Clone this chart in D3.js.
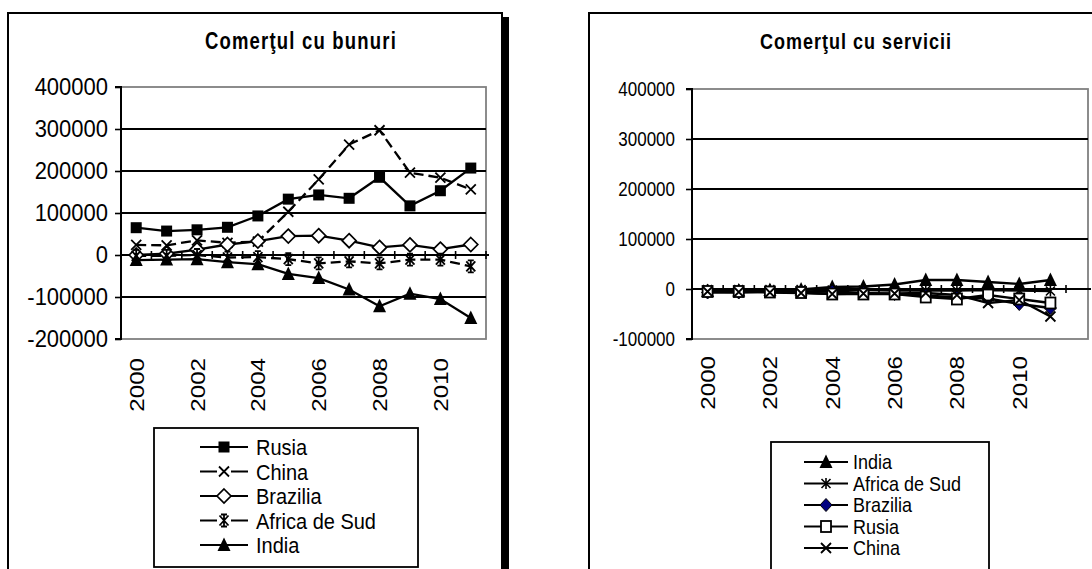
<!DOCTYPE html>
<html><head><meta charset="utf-8">
<script src="https://cdn.jsdelivr.net/npm/d3@7"></script>
<style>body{margin:0;background:#fff}svg{display:block}text{font-family:"Liberation Sans",Arial,sans-serif;fill:#000}</style>
</head><body><svg id="c" width="1092" height="569"></svg>
<script>
// ---------- data ----------
const years = [2000,2001,2002,2003,2004,2005,2006,2007,2008,2009,2010,2011];
const yearLabels = [2000,2002,2004,2006,2008,2010];
const goodsTicks = [-200000,-100000,0,100000,200000,300000,400000];
const servTicks = [-100000,0,100000,200000,300000,400000];

const goodsRusia    = [65000,57000,60000,66000,93000,133000,143000,135000,185000,117000,153000,207000];
const goodsChina    = [24000,23000,35000,29000,32000,103000,180000,263000,297000,196000,184000,156000];
const goodsBrazilia = [0,3000,13000,25000,33000,45000,46000,34000,18000,24000,14000,25000];
const goodsAfrica   = [-2000,-2000,0,-6000,-5000,-10000,-20000,-15000,-20000,-11000,-11000,-27000];
const goodsIndia    = [-12000,-11000,-10000,-17000,-22000,-45000,-55000,-82000,-122000,-92000,-105000,-150000];

const servIndia    = [-4000,-3000,-2000,-1000,4000,5000,9000,18000,18000,14000,10000,18000];
const servAfrica   = [-1000,-1000,-1000,-1000,-2000,-2000,-3000,-3000,-3000,-2000,-3000,-4000];
const servBrazilia = [-7000,-7000,-5000,-5000,-5000,-8000,-10000,-13000,-17000,-19000,-30000,-38000];
const servRusia    = [-5000,-5000,-6000,-7000,-10000,-10000,-10000,-16000,-20000,-12000,-20000,-28000];
const servChina    = [-5000,-6000,-7000,-8000,-10000,-9000,-9000,-8000,-12000,-28000,-22000,-55000];

const goodsTitle = "Comerţul cu bunuri";
const servTitle = "Comerţul cu servicii";

// ---------- helpers ----------
const svg = d3.select("#c");

function stext(g, x, y, str, size, sy, opt = {}) {
  return g.append("text")
    .attr("transform", `translate(${x},${y}) scale(${opt.sx||1},${sy})`)
    .attr("font-size", size)
    .attr("font-weight", opt.bold ? "bold" : null)
    .attr("letter-spacing", opt.ls || null)
    .attr("text-anchor", opt.anchor || "start")
    .text(str);
}

function marker(g, type, cx, cy) {
  const m = g.append("g").attr("transform", `translate(${cx},${cy})`);
  switch (type) {
    case "square": m.append("rect").attr("x",-5.5).attr("y",-5.5).attr("width",11).attr("height",11).attr("fill","#000"); break;
    case "squareOpen": m.append("rect").attr("x",-5).attr("y",-5.5).attr("width",10).attr("height",11).attr("fill","#fff").attr("stroke","#000").attr("stroke-width",1.8); break;
    case "x": m.append("path").attr("d","M-5,-5L5,5M-5,5L5,-5").attr("stroke","#000").attr("stroke-width",1.8).attr("fill","none"); break;
    case "star": m.append("path").attr("d","M-4.5,-5L4.5,5M-4.5,5L4.5,-5M0,-6L0,6M-3,-6H3M-3,6H3").attr("stroke","#000").attr("stroke-width",1.8).attr("fill","none"); break;
    case "starR": m.append("path").attr("d","M-4.5,-4.5L4.5,4.5M-4.5,4.5L4.5,-4.5M0,-5.5L0,5.5").attr("stroke","#000").attr("stroke-width",1.6).attr("fill","none"); break;
    case "diamondOpen": m.append("path").attr("d","M0,-7L7,0L0,7L-7,0Z").attr("fill","#fff").attr("stroke","#000").attr("stroke-width",1.7); break;
    case "diamondNavy": m.append("path").attr("d","M0,-6.5L6,0L0,6.5L-6,0Z").attr("fill","#000080").attr("stroke","#000").attr("stroke-width",1); break;
    case "triangle": m.append("path").attr("d","M0,-7.5L6.5,6L-6.5,6Z").attr("fill","#000"); break;
  }
}

function drawChart(cfg) {
  const g = svg.append("g");
  g.append("rect").attr("x",cfg.frame[0]).attr("y",cfg.frame[1]).attr("width",cfg.frame[2]).attr("height",cfg.frame[3])
    .attr("fill","#fff").attr("stroke","#000").attr("stroke-width",2);
  if (cfg.shadow) g.append("rect").attr("x",cfg.shadow[0]).attr("y",cfg.shadow[1]).attr("width",cfg.shadow[2]).attr("height",cfg.shadow[3]).attr("fill","#000");

  stext(g, cfg.titleX, cfg.titleY, cfg.title, cfg.titleSize, 1.25, {bold:true, anchor:"middle", ls:cfg.titleLs});

  const [x0,x1,y0,y1,xb] = cfg.plot;
  const x = d3.scaleBand().domain(years).range([x0,x1]);
  const cx = d => x(d) + x.bandwidth()/2;
  const y = d3.scaleLinear().domain([cfg.ticks[0], cfg.ticks[cfg.ticks.length-1]]).range([y1,y0]);

  g.append("rect").attr("x",x0).attr("y",y0).attr("width",xb-x0).attr("height",y1-y0)
    .attr("fill","#fff").attr("stroke","#808080").attr("stroke-width",1.8);

  g.selectAll(".grid").data(cfg.ticks.filter(t => t !== 0 && t !== cfg.ticks[0] && t !== cfg.ticks[cfg.ticks.length-1]))
    .enter().append("line").attr("x1",x0).attr("x2",xb).attr("y1",d=>y(d)).attr("y2",d=>y(d))
    .attr("stroke","#000").attr("stroke-width",2);

  const ya = g.append("g").attr("transform",`translate(${x0},0)`)
    .call(d3.axisLeft(y).tickValues(cfg.ticks).tickSize(6).tickPadding(cfg.tickPad).tickFormat(d => String(d)));
  ya.select(".domain").attr("stroke","#000").attr("stroke-width",2).attr("d",`M-6,${y0}H0V${y1}H-6`);
  ya.selectAll(".tick line").attr("stroke","#000").attr("stroke-width",1.6);
  ya.selectAll(".tick text").attr("font-size",cfg.tickSize).attr("font-family","Liberation Sans, Arial, sans-serif")
    .attr("fill","#000").attr("transform",`scale(1,${cfg.tickSy})`);

  const bx = d3.scaleLinear().domain([0, years.length]).range([x0,x1]);
  g.append("line").attr("x1",x0).attr("x2",xb+3).attr("y1",y(0)).attr("y2",y(0)).attr("stroke","#000").attr("stroke-width",2);
  g.selectAll(".ct").data(d3.range(1, years.length+1)).enter().append("line")
    .attr("x1",d=>bx(d)).attr("x2",d=>bx(d)).attr("y1",y(0)-4).attr("y2",y(0)+4)
    .attr("stroke","#000").attr("stroke-width",1.6);

  yearLabels.forEach(yr => {
    g.append("text").attr("transform",`translate(${cx(yr)},${cfg.xLabY}) rotate(-90) scale(${cfg.xLabSx},1)`)
      .attr("text-anchor","end").attr("dy","0.36em").attr("font-size",cfg.xLabSize).text(yr);
  });

  const line = d3.line().x((d,i) => cx(years[i])).y(d => y(d));
  cfg.series.forEach(s => {
    g.append("path").datum(s.values).attr("d", line).attr("fill","none").attr("stroke","#000")
      .attr("stroke-width",2.3).attr("stroke-dasharray", s.dash || null);
  });
  cfg.series.forEach(s => {
    s.values.forEach((v,i) => marker(g, s.marker, cx(years[i]), y(v)));
  });

  const L = cfg.legend;
  g.append("rect").attr("x",L.box[0]).attr("y",L.box[1]).attr("width",L.box[2]).attr("height",L.box[3])
    .attr("fill","#fff").attr("stroke","#000").attr("stroke-width",1.8);
  cfg.series.slice().sort((a,b)=>a.legendOrder-b.legendOrder).forEach((s,i) => {
    const yy = L.y0 + i*L.dy;
    g.append("line").attr("x1",L.lx0).attr("x2",L.lx1).attr("y1",yy).attr("y2",yy).attr("stroke","#000")
      .attr("stroke-width",2.2).attr("stroke-dasharray", s.dash ? s.legendDash : null);
    marker(g, s.legendMarker || s.marker, (L.lx0+L.lx1)/2, yy);
    stext(g, L.tx, yy + L.base, s.name, L.size, L.sy);
  });
}

drawChart({
  frame:[8,13,494,620], shadow:[502,17,7,620],
  title: goodsTitle, titleX:301, titleY:49, titleSize:18.5, titleLs:1.2,
  plot:[121,486,87,339,486], ticks: goodsTicks, tickSize:22, tickSy:1.1, tickPad:7,
  xLabY:358, xLabSize:21, xLabSx:1.15,
  series:[
    {name:"Rusia", values:goodsRusia, marker:"square", legendOrder:0},
    {name:"China", values:goodsChina, marker:"x", dash:"10,5", legendDash:"17,14", legendOrder:1},
    {name:"Brazilia", values:goodsBrazilia, marker:"diamondOpen", legendOrder:2},
    {name:"Africa de Sud", values:goodsAfrica, marker:"star", dash:"10,5", legendDash:"17,14", legendOrder:3},
    {name:"India", values:goodsIndia, marker:"triangle", legendOrder:4}
  ],
  legend:{box:[154,428,264,139], y0:447, dy:24.5, lx0:200, lx1:248, tx:256, base:8, size:20, sy:1.12}
});

drawChart({
  frame:[589,13,600,620], shadow:null,
  title: servTitle, titleX:856, titleY:49, titleSize:18, titleLs:1.0,
  plot:[692,1066,89,339,1088], ticks: servTicks, tickSize:17, tickSy:1.2, tickPad:11,
  xLabY:356, xLabSize:21, xLabSx:1.15,
  series:[
    {name:"India", values:servIndia, marker:"triangle", legendOrder:0},
    {name:"Africa de Sud", values:servAfrica, marker:"starR", legendOrder:1},
    {name:"Brazilia", values:servBrazilia, marker:"diamondNavy", legendOrder:2},
    {name:"Rusia", values:servRusia, marker:"squareOpen", legendOrder:3},
    {name:"China", values:servChina, marker:"x", legendOrder:4}
  ],
  legend:{box:[771,442,218,140], y0:462, dy:21.5, lx0:804, lx1:848, tx:853, base:7, size:18, sy:1.08}
});
</script></body></html>
